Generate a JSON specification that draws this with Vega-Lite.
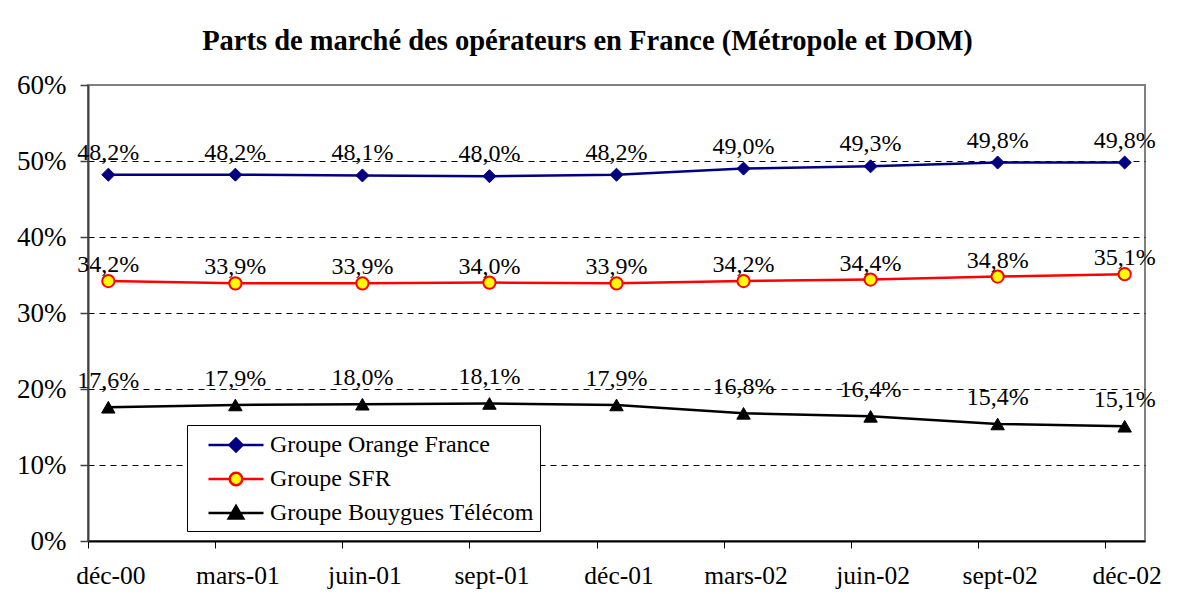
{
  "$schema": "https://vega.github.io/schema/vega-lite/v6.json",
  "width": 1057,
  "height": 456,
  "autosize": "none",
  "padding": {"left": 88, "top": 85, "right": 32, "bottom": 53},
  "background": "white",
  "config": {
    "locale": {"number": {"decimal": ",", "thousands": " ", "grouping": [3], "currency": ["", " €"]}},
    "view": {"stroke": "#808080", "strokeWidth": 2},
    "font": "Times New Roman"
  },
  "title": {
    "text": "Parts de marché des opérateurs en France (Métropole et DOM)",
    "font": "Times New Roman",
    "fontSize": 28.5,
    "fontWeight": "bold",
    "color": "black",
    "anchor": "middle",
    "frame": "group",
    "dx": -29,
    "offset": 16
  },
  "data": {
    "values": [
      {"date": "déc-00", "series": "Groupe Orange France", "share": 0.482},
      {"date": "mars-01", "series": "Groupe Orange France", "share": 0.482},
      {"date": "juin-01", "series": "Groupe Orange France", "share": 0.481},
      {"date": "sept-01", "series": "Groupe Orange France", "share": 0.480},
      {"date": "déc-01", "series": "Groupe Orange France", "share": 0.482},
      {"date": "mars-02", "series": "Groupe Orange France", "share": 0.490},
      {"date": "juin-02", "series": "Groupe Orange France", "share": 0.493},
      {"date": "sept-02", "series": "Groupe Orange France", "share": 0.498},
      {"date": "déc-02", "series": "Groupe Orange France", "share": 0.498},
      {"date": "déc-00", "series": "Groupe SFR", "share": 0.342},
      {"date": "mars-01", "series": "Groupe SFR", "share": 0.339},
      {"date": "juin-01", "series": "Groupe SFR", "share": 0.339},
      {"date": "sept-01", "series": "Groupe SFR", "share": 0.340},
      {"date": "déc-01", "series": "Groupe SFR", "share": 0.339},
      {"date": "mars-02", "series": "Groupe SFR", "share": 0.342},
      {"date": "juin-02", "series": "Groupe SFR", "share": 0.344},
      {"date": "sept-02", "series": "Groupe SFR", "share": 0.348},
      {"date": "déc-02", "series": "Groupe SFR", "share": 0.351},
      {"date": "déc-00", "series": "Groupe Bouygues Télécom", "share": 0.176},
      {"date": "mars-01", "series": "Groupe Bouygues Télécom", "share": 0.179},
      {"date": "juin-01", "series": "Groupe Bouygues Télécom", "share": 0.180},
      {"date": "sept-01", "series": "Groupe Bouygues Télécom", "share": 0.181},
      {"date": "déc-01", "series": "Groupe Bouygues Télécom", "share": 0.179},
      {"date": "mars-02", "series": "Groupe Bouygues Télécom", "share": 0.168},
      {"date": "juin-02", "series": "Groupe Bouygues Télécom", "share": 0.164},
      {"date": "sept-02", "series": "Groupe Bouygues Télécom", "share": 0.154},
      {"date": "déc-02", "series": "Groupe Bouygues Télécom", "share": 0.151}
    ]
  },
  "encoding": {
    "x": {
      "field": "date",
      "type": "ordinal",
      "sort": ["déc-00", "mars-01", "juin-01", "sept-01", "déc-01", "mars-02", "juin-02", "sept-02", "déc-02"],
      "scale": {"type": "point", "padding": 0.16},
      "axis": {
        "title": null,
        "labelAngle": 0,
        "labelFont": "Times New Roman",
        "labelFontSize": 25.5,
        "labelColor": "black",
        "labelPadding": 15,
        "tickOffset": -20,
        "labelOffset": 22,
        "tickSize": 7,
        "tickColor": "black",
        "tickWidth": 1,
        "domainColor": "black",
        "domainWidth": 2,
        "grid": false
      }
    },
    "y": {
      "field": "share",
      "type": "quantitative",
      "scale": {"domain": [0, 0.6]},
      "axis": {
        "title": null,
        "values": [0, 0.1, 0.2, 0.3, 0.4, 0.5, 0.6],
        "format": ".0%",
        "labelFont": "Times New Roman",
        "labelFontSize": 27,
        "labelColor": "black",
        "labelPadding": 14,
        "tickSize": 8,
        "tickColor": "#404040",
        "tickWidth": 1.5,
        "domainColor": "#404040",
        "domainWidth": 2,
        "grid": true,
        "gridColor": "black",
        "gridDash": [6, 5],
        "gridWidth": 1,
        "gridOpacity": {"condition": {"test": "datum.value < 0.05 || datum.value > 0.55", "value": 0}, "value": 1}
      }
    }
  },
  "layer": [
    {
      "mark": {"type": "line", "strokeWidth": 2.5},
      "encoding": {
        "color": {
          "field": "series",
          "type": "nominal",
          "scale": {
            "domain": ["Groupe Orange France", "Groupe SFR", "Groupe Bouygues Télécom"],
            "range": ["#000080", "#FF0000", "#000000"]
          },
          "legend": {
            "orient": "none",
            "legendX": 99,
            "legendY": 340,
            "title": null,
            "direction": "vertical",
            "labelFont": "Times New Roman",
            "labelFontSize": 24,
            "labelColor": "black",
            "labelLimit": 500,
            "symbolSize": 625,
            "symbolStrokeWidth": 2.5,
            "symbolOffset": 29,
            "labelOffset": 20,
            "padding": 6,
            "rowPadding": 8,
            "strokeColor": "black",
            "fillColor": "white",
            "encode": {
              "symbols": {
                "update": {
                  "shape": {"signal": "datum.value == 'Groupe SFR' ? 'M-2.2,0H-0.5M0.5,0H2.2M0.5,0A0.5,0.5,0,1,1,-0.5,0A0.5,0.5,0,1,1,0.5,0Z' : (datum.value == 'Groupe Orange France' ? 'M-2.2,0H2.2M0,-0.52L0.52,0L0,0.52L-0.52,0Z' : 'M-2.2,0H2.2M0,-0.56L0.58,0.44L-0.58,0.44Z')"},
                  "fill": {"signal": "datum.value == 'Groupe SFR' ? '#FFFF00' : (datum.value == 'Groupe Orange France' ? '#000080' : '#000000')"},
                  "stroke": {"signal": "datum.value == 'Groupe SFR' ? '#FF0000' : (datum.value == 'Groupe Orange France' ? '#000080' : '#000000')"}
                }
              }
            }
          }
        }
      }
    },
    {
      "transform": [{"filter": "datum.series == 'Groupe Orange France'"}],
      "mark": {"type": "point", "shape": "diamond", "filled": true, "size": 170, "fill": "#000080", "stroke": "#000080", "strokeWidth": 1, "opacity": 1}
    },
    {
      "transform": [{"filter": "datum.series == 'Groupe SFR'"}],
      "mark": {"type": "point", "shape": "circle", "filled": true, "size": 150, "fill": "#FFFF00", "stroke": "#FF0000", "strokeWidth": 2, "opacity": 1}
    },
    {
      "transform": [{"filter": "datum.series == 'Groupe Bouygues Télécom'"}],
      "mark": {"type": "point", "shape": "triangle-up", "filled": true, "size": 180, "fill": "#000000", "stroke": "#000000", "strokeWidth": 1, "opacity": 1}
    },
    {
      "transform": [{"filter": "datum.series == 'Groupe Orange France'"}],
      "mark": {"type": "text", "dy": -15, "fontSize": 24, "font": "Times New Roman", "baseline": "alphabetic", "align": "center", "color": "black"},
      "encoding": {"text": {"field": "share", "type": "quantitative", "format": ".1%"}}
    },
    {
      "transform": [{"filter": "datum.series == 'Groupe SFR'"}],
      "mark": {"type": "text", "dy": -9, "fontSize": 24, "font": "Times New Roman", "baseline": "alphabetic", "align": "center", "color": "black"},
      "encoding": {"text": {"field": "share", "type": "quantitative", "format": ".1%"}}
    },
    {
      "transform": [{"filter": "datum.series == 'Groupe Bouygues Télécom'"}],
      "mark": {"type": "text", "dy": -19, "fontSize": 24, "font": "Times New Roman", "baseline": "alphabetic", "align": "center", "color": "black"},
      "encoding": {"text": {"field": "share", "type": "quantitative", "format": ".1%"}}
    }
  ]
}
